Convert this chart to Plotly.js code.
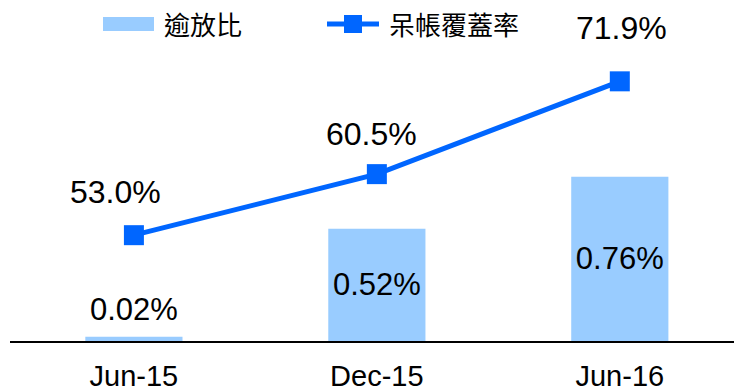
<!DOCTYPE html>
<html>
<head>
<meta charset="utf-8">
<script src="https://cdn.plot.ly/plotly-3.0.1.min.js"></script>
<style>html,body{margin:0;padding:0;background:#fff;}#chart{width:734px;height:391px;}</style>
</head>
<body>
<div id="chart"></div>
<script>
const categories = ['Jun-15', 'Dec-15', 'Jun-16'];
const nplRatio = [0.02, 0.52, 0.76];          // 逾放比 (%)
const coverageRatio = [53.0, 60.5, 71.9];     // 呆帳覆蓋率 (%)
const nplLabels = ['0.02%', '0.52%', '0.76%'];
const coverageLabels = ['53.0%', '60.5%', '71.9%'];
const seriesNames = ['逾放比', '呆帳覆蓋率'];

const barColor = '#99CCFF';
const lineColor = '#0066FF';
const numFont = 'Liberation Sans, Arial, sans-serif';
const cjkFont = 'Noto Sans CJK TC, sans-serif';

const W = 734, H = 391;
const M = {l: 10, r: 0, t: 10, b: 50};
const pw = W - M.l - M.r, ph = H - M.t - M.b;
const px = x => (x - M.l) / pw;
const py = y => (H - M.b - y) / ph;

// labels that fit go inside the bar (centered), the tiny bar's label sits above it
const insideMin = 0.1;
const bar = {
  type: 'bar', x: categories, y: nplRatio, name: seriesNames[0],
  marker: {color: barColor}, width: 0.4,
  text: nplLabels.map((t, i) => nplRatio[i] >= insideMin ? t : ''),
  textposition: 'inside', insidetextanchor: 'middle', textangle: 0,
  insidetextfont: {family: numFont, size: 31, color: '#000'},
  cliponaxis: false, showlegend: false, hoverinfo: 'none'
};
const line = {
  type: 'scatter', mode: 'lines+markers', x: categories, y: coverageRatio,
  name: seriesNames[1], yaxis: 'y2',
  line: {color: lineColor, width: 5},
  marker: {symbol: 'square', size: 20, color: lineColor},
  cliponaxis: false, showlegend: false, hoverinfo: 'none'
};

const labelShiftX = [-18, -5, 2];
const labelShiftY = [43, 40, 53];
const annotations = categories.map((c, i) => ({
  x: c, y: coverageRatio[i], xref: 'x', yref: 'y2',
  text: coverageLabels[i], showarrow: false,
  xshift: labelShiftX[i], yshift: labelShiftY[i],
  font: {family: numFont, size: 32, color: '#000'}
}));
categories.forEach((c, i) => {
  if (nplRatio[i] < insideMin) {
    annotations.push({
      x: c, y: nplRatio[i], xref: 'x', yref: 'y', yanchor: 'bottom',
      text: nplLabels[i], showarrow: false, yshift: 8,
      font: {family: numFont, size: 31, color: '#000'}
    });
  }
});
annotations.push(
  {xref: 'paper', yref: 'paper', x: px(162), y: py(24), xanchor: 'left', yanchor: 'middle',
   text: seriesNames[0], showarrow: false, font: {family: cjkFont, size: 26, color: '#000'}},
  {xref: 'paper', yref: 'paper', x: px(387), y: py(24), xanchor: 'left', yanchor: 'middle',
   text: seriesNames[1], showarrow: false, font: {family: cjkFont, size: 26, color: '#000'}}
);

const shapes = [
  {type: 'rect', xref: 'paper', yref: 'paper', x0: px(103), x1: px(154), y0: py(31), y1: py(17),
   fillcolor: barColor, line: {width: 0}},
  {type: 'line', xref: 'paper', yref: 'paper', x0: px(327), x1: px(379), y0: py(24), y1: py(24),
   line: {color: lineColor, width: 5}},
  {type: 'rect', xref: 'paper', yref: 'paper', x0: px(344), x1: px(362), y0: py(33), y1: py(15),
   fillcolor: lineColor, line: {width: 0}}
];

const layout = {
  width: W, height: H, margin: M,
  paper_bgcolor: '#fff', plot_bgcolor: '#fff',
  showlegend: false,
  xaxis: {
    type: 'category', range: [-0.51, 2.47],
    showline: true, linecolor: '#000', linewidth: 2,
    ticks: 'outside', ticklen: 8, tickcolor: 'rgba(0,0,0,0)',
    tickfont: {family: numFont, size: 29, color: '#000'},
    showgrid: false, zeroline: false, fixedrange: true
  },
  yaxis: {range: [0, ph / 216], visible: false, showgrid: false, zeroline: false, fixedrange: true},
  yaxis2: {range: [40, 40 + ph / 8.14], overlaying: 'y', visible: false, showgrid: false, zeroline: false},
  annotations: annotations,
  shapes: shapes,
  bargap: 0.6
};

Plotly.newPlot('chart', [bar, line], layout, {displayModeBar: false, staticPlot: true});
</script>
</body>
</html>
